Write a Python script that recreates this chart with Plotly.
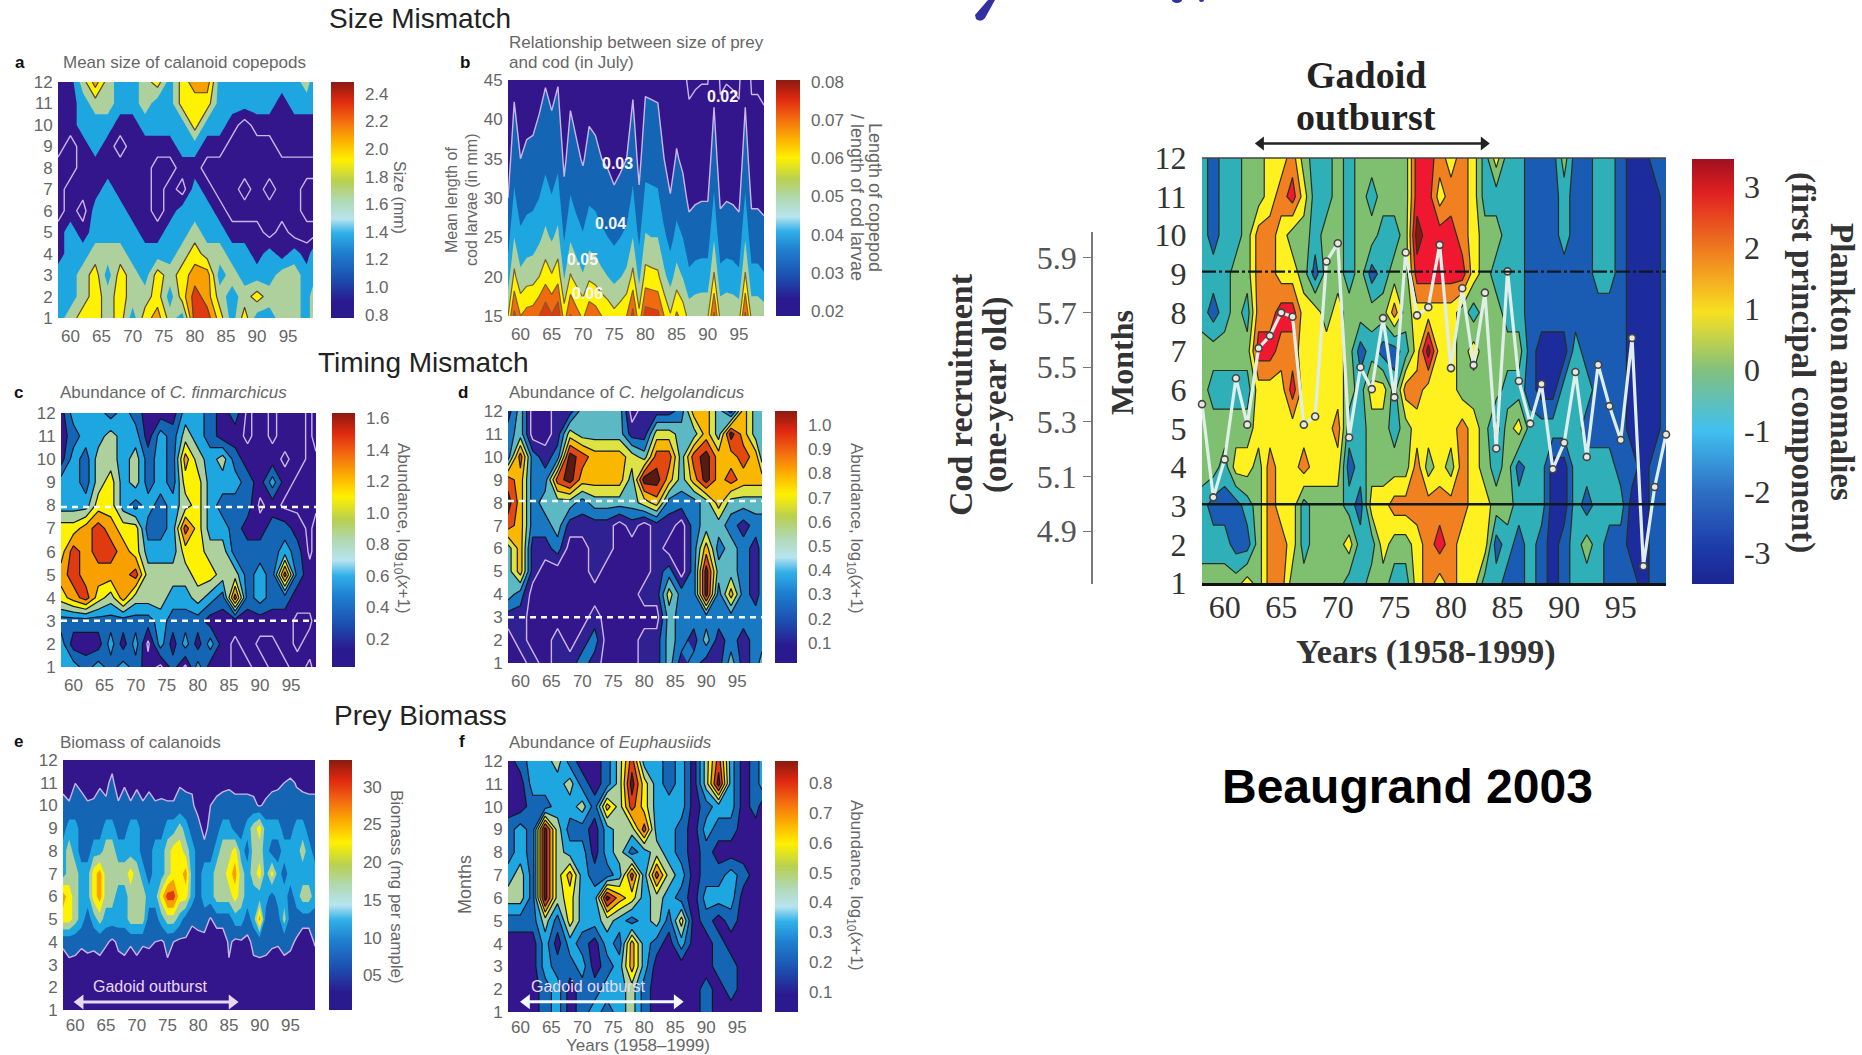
import plotly.graph_objects as go

W, H = 1862, 1055
YEARS_MAIN = list(range(1958, 2000))
YEARS_SMALL = list(range(1958, 2000, 2)) + [1999]
MONTHS_DOWN = list(range(12, 0, -1))
YEAR_TICKS = [1960, 1965, 1970, 1975, 1980, 1985, 1990, 1995]
YEAR_LABELS = ["60", "65", "70", "75", "80", "85", "90", "95"]
MONTH_TICKS = list(range(1, 13))

# Colours of the filled bands
P, B, C, S, Y, O, R, K = "#33168c", "#1565b5", "#1ea6e0", "#aed09c", "#fef200", "#f8a000", "#e03a10", "#5a1a10"

# a: mean size of calanoid copepods (mm), months 12 -> 1
Z_A = [
 [1.0,1.0,1.6,2.2,1.6,1.3,1.3,1.6,1.9,1.3,1.9,2.2,2.2,1.3,1.3,1.3,1.3,1.3,1.3,1.3,1.6,1.3],
 [1.0,1.0,1.3,1.6,1.6,1.3,1.3,1.6,1.3,1.3,1.9,1.9,1.9,1.3,1.3,1.3,1.3,1.3,1.0,1.3,1.3,1.3],
 [1.0,1.0,1.3,1.3,1.3,1.0,1.0,1.3,1.3,1.3,1.3,1.9,1.3,1.3,1.0,0.7,1.0,1.0,1.0,1.0,1.0,1.0],
 [1.0,0.7,1.0,1.3,1.0,0.7,1.0,1.0,1.0,1.0,1.3,1.3,1.0,1.0,0.7,0.7,0.7,0.7,1.0,1.0,1.0,1.0],
 [0.7,0.7,1.0,1.0,1.0,1.0,1.0,1.0,0.7,0.7,1.0,1.0,0.7,0.7,0.7,0.7,0.7,0.7,0.7,0.7,0.7,0.7],
 [0.7,1.0,1.0,1.0,1.3,1.0,1.0,1.0,0.7,1.0,0.7,1.3,1.0,0.7,0.7,1.0,0.7,1.0,0.7,0.7,1.0,1.0],
 [0.7,1.0,0.7,1.3,1.3,1.3,1.0,1.0,0.7,1.0,1.3,1.3,1.3,1.0,0.7,0.7,0.7,0.7,0.7,0.7,1.0,1.0],
 [1.0,1.3,1.0,1.3,1.3,1.3,1.3,1.0,1.0,1.3,1.3,1.6,1.3,1.3,1.0,1.0,1.0,0.7,1.0,0.7,0.7,0.7],
 [1.0,1.3,1.3,1.6,1.6,1.6,1.3,1.3,1.3,1.3,1.6,1.9,1.6,1.6,1.3,1.3,1.0,1.3,1.0,1.3,1.0,1.3],
 [1.3,1.3,1.6,1.9,1.3,1.9,1.6,1.3,1.9,1.6,1.9,2.2,2.2,1.3,1.6,1.3,1.3,1.3,1.6,1.6,1.3,1.3],
 [1.3,1.3,1.6,1.9,1.6,1.9,1.6,1.6,1.9,1.3,1.9,2.5,2.2,1.6,1.3,1.6,1.9,1.6,1.6,1.6,1.3,1.6],
 [1.3,1.6,1.9,1.9,1.6,1.9,1.3,1.9,2.2,1.6,1.3,2.5,2.5,1.9,1.3,1.9,1.3,1.3,1.6,1.6,1.3,1.6],
]

# b: length of copepod / length of cod larvae, rows are larval lengths, columns are years
B_LENGTHS = [15, 20, 25, 30, 35, 45]
Z_B = [
 [.060,.083,.070,.074,.075,.080,.088,.081,.088,.065,.081,.074,.068,.077,.075,.070,.067,.063,.066,.070,.084,.063,.085,.084,.083,.070,.061,.072,.066,.056,.058,.059,.059,.082,.057,.059,.058,.056,.082,.057,.057,.055],
 [.045,.0626,.0525,.0555,.056,.060,.0657,.061,.066,.049,.061,.0555,.051,.058,.056,.0525,.050,.047,.0495,.0525,.063,.047,.064,.063,.062,.0525,.046,.054,.0495,.042,.0435,.044,.044,.0615,.043,.044,.0435,.042,.0615,.043,.043,.041],
 [.036,.050,.042,.044,.045,.048,.0526,.0486,.0528,.039,.0486,.044,.041,.046,.045,.042,.040,.038,.040,.042,.050,.038,.051,.050,.050,.042,.0366,.043,.040,.0336,.035,.0354,.0354,.049,.034,.0354,.035,.0336,.049,.034,.034,.033],
 [.030,.0417,.035,.037,.0375,.040,.0438,.0405,.044,.0325,.0405,.037,.034,.0385,.0375,.035,.0335,.0315,.033,.035,.042,.0315,.0425,.042,.0415,.035,.0305,.036,.033,.028,.029,.0295,.0295,.041,.0285,.0295,.029,.028,.041,.0285,.0285,.0275],
 [.0257,.0357,.030,.0317,.0321,.0343,.0375,.0347,.0377,.0279,.0347,.0317,.0291,.033,.0321,.030,.0287,.027,.0283,.030,.036,.027,.0364,.036,.0356,.030,.0261,.0309,.0283,.024,.0249,.0253,.0253,.0351,.0244,.0253,.0249,.024,.0351,.0244,.0244,.0236],
 [.020,.0278,.0233,.0247,.025,.0267,.0292,.027,.0293,.0217,.027,.0247,.0227,.0257,.025,.0233,.0223,.021,.022,.0233,.028,.021,.0283,.028,.0277,.0233,.0203,.024,.022,.0187,.0193,.0197,.0197,.0273,.019,.0197,.0193,.0187,.0273,.019,.019,.0183],
]

# c: abundance of C. finmarchicus
Z_C = [
 [.2,.6,.6,.6,.4,.6,.4,.2,.2,.2,.6,.6,.4,.2,.4,.05,.2,.05,.2,.2,.05,.2],
 [.2,.4,.6,.6,.8,.6,.6,.2,.6,.4,.8,.6,.4,.2,.2,.05,.2,.05,.2,.2,.05,.2],
 [.2,.6,.4,.8,.8,.6,.8,.4,.6,.4,1.2,.8,.6,.8,.4,.2,.2,.2,.05,.2,.05,.05],
 [.6,.6,.4,.8,1.0,.6,.8,.4,.6,.4,1.0,1.0,.6,.6,.6,.4,.2,.6,.2,.05,.05,.05],
 [.6,.6,.6,1.0,1.0,.6,.4,.6,.4,.6,.8,1.0,.6,.4,.4,.4,.05,.2,.05,.05,.05,.05],
 [1.0,1.0,1.2,1.4,1.2,1.0,1.0,.4,.4,.6,1.4,1.0,.6,.6,.4,.2,.2,.4,.4,.2,.05,.2],
 [1.0,1.4,1.2,1.4,1.4,1.2,1.0,.6,.6,.6,1.0,1.0,.8,.8,.4,.4,.4,.4,.6,.4,.05,.2],
 [1.2,1.4,1.2,1.2,1.2,1.2,1.4,.8,.8,.8,.8,1.0,1.0,.8,.8,.4,.6,.4,1.4,.4,.2,.2],
 [1.0,1.2,1.4,1.0,.8,1.2,.8,.8,.8,.6,.6,.8,.6,.4,1.4,.4,.6,.4,.4,.2,.2,.2],
 [.4,.4,.4,.4,.4,.4,.4,.4,.6,.4,.4,.4,.2,.2,.2,.2,.2,.2,.2,.05,.05,.2],
 [.6,.2,.2,.2,.6,.2,.6,.05,.6,.2,.6,.2,.6,.2,.05,.2,.05,.05,.2,.05,.2,.2],
 [.6,.6,.4,.6,.4,.6,.4,.2,.05,.4,.05,.6,.2,.2,.05,.05,.2,.05,.05,.2,.05,.2],
]

# d: abundance of C. helgolandicus
Z_D = [
 [.15,.45,0,0,.15,.15,.45,.45,.45,.45,0,.15,.15,.15,.3,.75,.75,.45,.15,.75,.45,.45],
 [.3,.45,0,0,.15,.6,.45,.45,.45,.45,.15,.15,.6,.6,.45,.45,.75,.45,1.05,.75,.45,.45],
 [.3,.9,.3,.15,.3,1.05,.9,.75,.75,.75,.6,.45,.9,.9,.45,.9,1.05,.75,.75,.9,.75,.45],
 [.9,.75,.3,.3,.9,1.05,.75,.75,.75,.75,.45,1.05,1.05,.75,.45,.75,1.05,.75,.9,.75,.75,.75],
 [1.05,.75,.3,.45,.45,.45,.3,.45,.45,.45,.45,.6,.75,.3,.3,.3,.45,.75,.45,.45,.45,.45],
 [.9,.75,.3,.3,.45,.15,.15,.15,.15,0,.15,0,.15,.15,0,.3,.45,.45,.3,.15,.3,.3],
 [.45,.75,.15,.15,.3,0,0,.15,.15,0,0,0,.15,0,0,.3,.75,.3,.45,.3,.15,.3],
 [.45,.75,.15,0,0,0,0,.15,0,0,0,0,.15,.3,0,.3,1.05,.45,.45,.3,.15,.3],
 [.45,.3,0,0,0,0,0,0,0,0,0,.15,.15,.6,.3,.3,1.05,.3,.75,.3,.15,.3],
 [.15,.15,0,0,0,0,0,.15,0,0,0,0,0,.45,.3,.3,.3,.3,.3,.3,.3,.3],
 [0,.15,0,0,.15,0,.15,.3,0,0,0,.15,.15,.45,.3,.15,.45,.15,.3,.15,.3,.3],
 [0,0,.15,0,.15,.15,.3,.15,0,0,0,.15,.15,.45,.15,.3,.15,.15,.45,.15,.3,.45],
]

# e: biomass of calanoids (mg per sample), one column per year
Z_E = [
 [2]*42,
 [3.5,.5,4.47,3.83,.5,2.17,4.17,3,6.17,.5,4.25,.5,4.07,.5,3.83,.5,2.17,.5,.5,4.25,3.83,3.5,2,2,2,3,3.83,4.07,3.5,3.5,3.5,3,2,2.17,3.83,4.07,4.5,5.125,4.25,3.83,3.5,3.5],
 [5.5,5.5,5.5,5.5,5.5,5.5,5.5,5.5,5.5,5.5,5.5,5.5,5.5,5.5,5.5,5.5,5.5,5.5,5.5,5.5,5.5,5.5,2,2,4.5,5.5,5.5,5.5,5.5,5.5,5.5,5.5,4,5.5,5.5,5.5,5.5,5.5,5.5,5.5,5.5,5.5],
 [7,12,12,7,7,7,7,12,12,7,7,12,12,7,7,7,7,12,12,17,12,7,7,2,7,7,12,12,7,7,12,17,22,12,12,12,7,7,12,12,7,7],
 [12,17,12,7,7,12,12,17,17,12,12,12,12,7,7,12,12,17,22,22,17,12,7,7,7,12,17,17,22,12,7,17,17,12,7,7,12,12,12,17,12,7],
 [12,17,17,12,12,22,27,17,17,17,17,22,17,12,7,12,12,17,22,22,27,12,7,12,12,17,17,22,27,17,12,17,22,12,22,12,7,12,12,12,12,12],
 [27,22,17,12,12,22,27,17,17,12,12,17,17,17,12,12,22,32,32,22,22,12,7,12,12,17,17,17,22,17,12,12,12,12,7,12,12,7,12,17,17,12],
 [22,22,17,12,7,12,17,12,12,12,12,17,17,17,7,7,12,17,17,12,7,5.5,7,7,4,7,7,7,12,12,7,12,27,7,7,7,17,7,7,7,7,7],
 [5.5,5.5,5.5,5.5,5.5,5.5,5.5,5.5,3.4,5.5,5.5,5.5,5.5,5.5,5.5,4.5,3.9,5.5,4.5,3.4,3.9,2.2,2,2.8,2,.75,.75,5.5,3.4,3.9,3.4,5.5,5.5,5.5,5.5,5.5,5.5,5.5,3.9,.75,.75,5.5],
 [2.17,4.07,3.83,2.17,3.5,3,3.83,.5,2,3,3.83,.5,3.83,.5,2.17,2,2,4.07,2,2,2,2,2,2,2,2,2,4.07,2,2,2,3.83,4.07,3.83,2.17,.5,3.83,3,2,2,2,.5],
 [2]*42,
 [2]*42,
]

# f: abundance of Euphausiids
Z_F = [
 [.04,.16,.28,.28,.40,.16,.04,.04,.16,.40,.76,.28,.28,.16,.28,.04,.40,.76,.28,.04,.16,.28],
 [.04,.04,.28,.28,.28,.40,.16,.04,.16,.40,.88,.52,.28,.16,.28,.04,.40,.88,.28,.04,.16,.28],
 [.04,.04,.16,.16,.28,.28,.40,.16,.64,.40,.76,.52,.28,.28,.28,.04,.16,.28,.28,.04,.16,.04],
 [.16,.28,.16,.88,.40,.16,.16,.04,.28,.40,.40,.76,.28,.28,.16,.04,.28,.16,.16,.04,.04,.04],
 [.16,.28,.16,.88,.40,.28,.28,.04,.28,.40,.16,.28,.40,.28,.16,.04,.16,.04,.04,.04,.04,.04],
 [.28,.40,.16,.88,.40,.64,.28,.16,.16,.28,.76,.28,.76,.40,.28,.04,.16,.16,.28,.16,.04,.04],
 [.40,.40,.16,.88,.40,.52,.28,.28,.88,.64,.52,.28,.40,.28,.16,.04,.28,.28,.28,.04,.04,.04],
 [.16,.16,.16,.40,.16,.52,.28,.28,.40,.28,.16,.28,.40,.16,.52,.04,.16,.04,.16,.04,.04,.04],
 [.04,.04,.04,.28,.04,.28,.16,.04,.28,.16,.64,.28,.16,.04,.28,.04,.04,.16,.04,.04,.04,.04],
 [.04,.04,.04,.28,.16,.16,.28,.04,.16,.28,.64,.28,.04,.04,.04,.04,.04,.16,.16,.04,.04,.04],
 [.04,.04,.04,.16,.28,.04,.16,.16,.28,.28,.40,.16,.04,.04,.04,.04,.16,.04,.16,.04,.04,.04],
 [.04,.04,.04,.16,.28,.04,.16,.28,.16,.28,.40,.16,.04,.04,.04,.04,.16,.04,.04,.04,.04,.04],
]

# Main panel: plankton anomalies (first principal component), months 12 -> 1
Z_MAIN = [
 [-1,-2,-1,-1,0,0,1,1,2,0,-1,-1,0,-1,0,0,0,0,0,3,3,2,1,2,1,-1,1,-1,-1,-2,-2,-2,0,-2,-2,-1,-1,-2,-3,-3,-2,-2],
 [-1,-2,-1,-1,0,0,1,2,3,1,-1,-1,0,-1,0,-1,0,0,0,3,3,1,2,2,1,-1,-1,-1,-1,-2,-2,-2,-1,-2,-2,-1,-1,-2,-3,-3,-3,-2],
 [-1,-2,-1,-1,0,2,2,1,0,0,-1,0,0,-1,0,0,-1,-1,0,4,3,3,3,2,1,0,0,-1,-1,-2,-2,-2,-1,-2,-2,-1,-1,-2,-3,-3,-3,-2],
 [-1,-1,-1,0,0,2,2,1,1,0,-2,0,0,-1,0,-2,-1,0,0,3,3,3,3,3,1,0,-1,-1,-1,-2,-2,-2,-2,-2,-2,-1,-1,-2,-3,-3,-3,-2],
 [-1,-2,-1,0,-1,2,2,3,3,1,1,0,1,0,0,0,0,2,0,1,1,1,1,0,-1,0,0,-1,-1,-2,-2,-2,-2,-2,-2,-2,-2,-2,-3,-3,-3,-2],
 [0,0,0,0,0,3,3,2,2,1,1,1,1,0,-2,-1,-2,-2,-1,1,4,1,1,0,1,0,0,0,0,-2,-3,-3,-3,-1,-2,-2,-2,-2,-3,-3,-3,-2],
 [0,-1,-1,-1,-1,1,1,1,3,1,1,1,1,0,-1,1,1,-1,2,2,1,1,1,0,0,0,0,-1,-1,-2,-3,-3,-1,-1,-1,-2,-2,-2,-3,-3,-3,-2],
 [0,0,0,0,0,1,1,1,1,1,1,1,2,-1,-1,0,0,-1,0,1,1,1,1,2,1,0,-2,0,1,-1,-1,-1,-1,-1,-2,-2,-2,-2,-3,-3,-3,-2],
 [0,0,-1,1,1,0,2,1,1,2,1,1,1,-2,-1,0,0,0,0,2,0,1,0,2,1,0,-1,0,-2,-1,-1,-3,-3,-1,-1,-1,-1,-2,-2,-3,-2,-2],
 [-1,-2,-2,-2,-1,0,2,1,1,-1,0,0,0,-1,-2,1,1,2,2,2,2,2,2,2,1,1,0,0,-1,-1,-1,-3,-3,-1,-2,-1,-1,-1,-3,-3,-2,-2],
 [-1,-1,-1,-2,-2,0,2,2,1,-1,0,0,0,1,-1,-1,1,0,0,1,2,3,2,1,1,1,-2,-1,-2,-1,-2,-3,-2,-1,0,-1,-2,-2,-3,-3,-2,-2],
 [0,0,0,0,1,0,2,2,0,0,0,0,0,-1,-1,0,0,-1,-1,1,2,1,2,1,1,-1,-1,-2,-2,-1,-2,-3,-2,-1,-1,-1,-2,-2,-2,-3,-2,-2],
]

# Cod recruitment, one value per year
COD = [5.365,5.024,5.163,5.46,5.29,5.57,5.615,5.70,5.685,5.29,5.32,5.887,5.954,5.243,5.50,5.42,5.68,5.39,5.92,5.69,
       5.72,5.948,5.497,5.789,5.508,5.773,5.203,5.851,5.45,5.294,5.439,5.127,5.224,5.483,5.172,5.509,5.358,5.234,5.607,4.772,5.062,5.254]

# Gadoid outburst: start year, end year and the level the arrow sits at
OUTBURST_E = ([1960.8, 1985.5], [1.35, 1.35])
OUTBURST_F = ([1961.0, 1985.3], [1.45, 1.45])
OUTBURST_MAIN = ([1963.2, 1982.9], [0.5, 0.5])

for grid, n in [(Z_A, 22), (Z_B, 42), (Z_C, 22), (Z_D, 22), (Z_E, 42), (Z_F, 22), (Z_MAIN, 42)]:
    assert all(len(r) == n for r in grid), [len(r) for r in grid]
assert len(COD) == 42

BAR = [[0, "#2a1a8c"], [.07, "#2a1a90"], [.17, "#1c50b0"], [.28, "#1f80d0"], [.36, "#30b0e8"], [.42, "#b8e4f0"],
       [.5, "#b0d8b0"], [.58, "#b8d050"], [.67, "#fff000"], [.75, "#fdb000"], [.83, "#f47010"], [.92, "#e02810"], [1, "#8a1a10"]]
BAR_MAIN = [[0, "#1c2490"], [.08, "#1c3aa8"], [.22, "#2f70c4"], [.36, "#40c0f0"], [.5, "#80c080"], [.64, "#f8e020"],
            [.78, "#f08020"], [.92, "#e02020"], [1, "#a01020"]]


def fx(p):
    return p / W


def fy(p):
    return 1 - p / H


panels = [
    dict(box=(58, 313, 82, 318), x=YEARS_SMALL, y=MONTHS_DOWN, z=Z_A, bands=[P, P, C, S, Y, O, R, K], start=.85, size=.3, end=2.65, xl=3,
         pale=[.85], dark=(1.75, 2.65, .3), dc="#5a4030", bar=(331, 354, .776, 2.485), ticks=[.8, 1, 1.2, 1.4, 1.6, 1.8, 2, 2.2, 2.4], labels=["0.8", "1.0", "1.2", "1.4", "1.6", "1.8", "2.0", "2.2", "2.4"]),
    dict(box=(508, 764, 80, 316), x=YEARS_MAIN, y=B_LENGTHS, z=Z_B, bands=[P, P, B, C, S, Y, "#f06a10", R], start=.02, size=.01, end=.08, xl=3,
         pale=[.02, .03], dark=(.06, .08, .01), dc="#7a6030", bar=(776, 800, .0187, .0805), ticks=[.02, .03, .04, .05, .06, .07, .08], labels=["0.02", "0.03", "0.04", "0.05", "0.06", "0.07", "0.08"]),
    dict(box=(61, 316, 413, 667), x=YEARS_SMALL, y=MONTHS_DOWN, z=Z_C, bands=[P, P, B, C, S, Y, O, R, K], start=.1, size=.2, end=1.5, xl=3,
         pale=[.1], dark=(.3, 1.5, .2), dc="#101828", bar=(332, 355, .023, 1.632), ticks=[.2, .4, .6, .8, 1, 1.2, 1.4, 1.6], labels=["0.2", "0.4", "0.6", "0.8", "1.0", "1.2", "1.4", "1.6"]),
    dict(box=(508, 762, 411, 663), x=YEARS_SMALL, y=MONTHS_DOWN, z=Z_D, bands=[P, P, B, C, S, Y, O, R, K], start=.075, size=.15, end=.975, xl=3,
         pale=[.075], dark=(.225, .975, .15), dc="#101828", bar=(775, 797, .017, 1.058), ticks=[.1, .2, .3, .4, .5, .6, .7, .8, .9, 1], labels=["0.1", "0.2", "0.3", "0.4", "0.5", "0.6", "0.7", "0.8", "0.9", "1.0"]),
    dict(box=(63, 315, 760, 1010), x=YEARS_MAIN, y=MONTHS_DOWN, z=Z_E, bands=[P, B, C, S, Y, O, R], start=4.5, size=5, end=29.5, xl=0,
         pale=[4.5], dark=None, dc="#101828", bar=(329, 352, .4, 33.55), ticks=[5, 10, 15, 20, 25, 30], labels=["05", "10", "15", "20", "25", "30"]),
    dict(box=(508, 762, 761, 1012), x=YEARS_SMALL, y=MONTHS_DOWN, z=Z_F, bands=[P, B, C, S, Y, O, R, K], start=.1, size=.12, end=.82, xl=0,
         pale=[], dark=(.1, .82, .12), dc="#101828", bar=(775, 798, .033, .874), ticks=[.1, .2, .3, .4, .5, .6, .7, .8], labels=["0.1", "0.2", "0.3", "0.4", "0.5", "0.6", "0.7", "0.8"]),
    dict(box=(1202, 1666, 158, 583), x=YEARS_MAIN, y=MONTHS_DOWN, z=Z_MAIN, bands=["#1c2c9c", "#1a5cb4", "#2fb0b8", "#7ec070", "#fff020", "#f08020", "#f01830", "#8a1810"], xl=0,
         start=-2.5, size=1, end=3.5, pale=[], dark=(-2.5, 3.5, 1), dc="#27301c", bar=(1692, 1734, -3.51, 3.46), ticks=[-3, -2, -1, 0, 1, 2, 3], labels=["-3", "-2", "-1", "0", "1", "2", "3"]),
]

fig = go.Figure()
layout = {}
for i, p in enumerate(panels, start=1):
    suffix = "" if i == 1 else str(i)
    xa, ya = "x" + suffix, "y" + suffix
    big = i == 7
    x0, x1, y0, y1 = p["box"]
    font = dict(family="Liberation Serif", size=32, color="#333") if big else dict(family="Liberation Sans", size=17, color="#666")
    layout["xaxis" + suffix] = dict(domain=[fx(x0), fx(x1)], range=[1958, 1999], anchor=ya, tickvals=YEAR_TICKS, ticktext=YEAR_LABELS,
                                    ticks="outside", ticklen=p["xl"], tickcolor="rgba(0,0,0,0)", tickfont=font, showgrid=False, zeroline=False,
                                    showline=big, linecolor="#111", linewidth=3, ticklabelstandoff=-6 if big else 0)
    is_b = i == 2
    layout["yaxis" + suffix] = dict(domain=[fy(y1), fy(y0)], range=[15, 45] if is_b else [1, 12], anchor=xa,
                                    tickvals=[15, 20, 25, 30, 35, 40, 45] if is_b else MONTH_TICKS, ticks="outside", ticklen=8 if big else 1,
                                    tickcolor="rgba(0,0,0,0)", tickfont=font, showgrid=False, zeroline=False)
    n = len(p["bands"])
    scale = [[k / (n - 1), c] for k, c in enumerate(p["bands"])]
    fig.add_trace(go.Contour(x=p["x"], y=p["y"], z=p["z"], xaxis=xa, yaxis=ya, autocontour=False, showscale=False, colorscale=scale,
                             contours=dict(start=p["start"], end=p["end"], size=p["size"], coloring="fill", showlines=False),
                             line=dict(width=0, smoothing=0), hoverinfo="skip"))
    for lv in p["pale"]:
        fig.add_trace(go.Contour(x=p["x"], y=p["y"], z=p["z"], xaxis=xa, yaxis=ya, autocontour=False, showscale=False,
                                 contours=dict(start=lv, end=lv, size=1, coloring="none"),
                                 line=dict(width=1.4, color="#cdb4ea", smoothing=0), hoverinfo="skip"))
    if p["dark"]:
        a, b, s = p["dark"]
        fig.add_trace(go.Contour(x=p["x"], y=p["y"], z=p["z"], xaxis=xa, yaxis=ya, autocontour=False, showscale=False,
                                 contours=dict(start=a, end=b, size=s, coloring="none"),
                                 line=dict(width=1.2, color=p["dc"], smoothing=0), hoverinfo="skip"))
    bx0, bx1, cmin, cmax = p["bar"]
    fig.add_trace(go.Scatter(x=[1970], y=[30 if is_b else 6], xaxis=xa, yaxis=ya, mode="markers", hoverinfo="skip",
                             marker=dict(size=1, opacity=0, color=[cmin], cmin=cmin, cmax=cmax, colorscale=BAR_MAIN if big else BAR, showscale=True,
                                         colorbar=dict(x=fx(bx0), xanchor="left", y=fy(y1 + (1 if big else 0)), yanchor="bottom", len=(y1 - y0) / H, lenmode="fraction",
                                                       thickness=bx1 - bx0, thicknessmode="pixels", xpad=0, ypad=0, outlinewidth=0,
                                                       tickvals=p["ticks"], ticktext=p["labels"], ticks="outside", ticklen=4 if big else 8,
                                                       tickcolor="rgba(0,0,0,0)", tickfont=font))))

# Strip above the main panel that carries its outburst arrow
layout["yaxis9"] = dict(domain=[fy(156), fy(131)], range=[0, 1], anchor="x7", visible=False)

# Gadoid outburst arrows with a head at both ends
for (ax, ay), xa, ya, col, wd, size in [(OUTBURST_E, "x5", "y5", "#ecd8f6", 3, 13), (OUTBURST_F, "x6", "y6", "#f4fbff", 3, 13),
                                         (OUTBURST_MAIN, "x7", "y9", "#222", 2.5, 12)]:
    fig.add_trace(go.Scatter(x=ax, y=ay, xaxis=xa, yaxis=ya, mode="lines+markers", cliponaxis=False, hoverinfo="skip",
                             line=dict(color=col, width=wd),
                             marker=dict(color=col, size=size, symbol=["triangle-left", "triangle-right"])))

# Cod recruitment line on its own scale
layout["yaxis8"] = dict(domain=[fy(584), fy(232)], range=[4.707, 5.995], anchor="free", position=fx(1092), side="left",
                        tickvals=[4.9, 5.1, 5.3, 5.5, 5.7, 5.9], ticktext=["4.9", "5.1", "5.3", "5.5", "5.7", "5.9"], ticks="outside", ticklen=8, tickcolor="#777",
                        tickfont=dict(family="Liberation Serif", size=32, color="#555"), showline=True, linecolor="#777", linewidth=1.5,
                        showgrid=False, zeroline=False)
fig.add_trace(go.Scatter(x=YEARS_MAIN, y=COD, xaxis="x7", yaxis="y8", mode="lines+markers", cliponaxis=False, hoverinfo="skip",
                         line=dict(color="#dfeee8", width=3.2),
                         marker=dict(size=7, color="#e8e8e0", line=dict(color="#444", width=1.6))))

shapes = []
# Threshold months drawn across panels c, d and the main panel
THRESH_C = [7.93, 3.0]
THRESH_D = [8.07, 3.0]
THRESH_MAIN = [9.06, 3.04]
for vals, xa, ya in [(THRESH_C, "x3", "y3"), (THRESH_D, "x4", "y4")]:
    for v in vals:
        shapes.append(dict(type="line", xref=xa, yref=ya, x0=1958, x1=1999, y0=v, y1=v, line=dict(color="#f4fbff", width=2.4, dash="6px,5px")))
shapes.append(dict(type="line", xref="x7", yref="y7", x0=1958, x1=1999, y0=THRESH_MAIN[0], y1=THRESH_MAIN[0], line=dict(color="#10181c", width=2.2, dash="14px,3px,3px,3px")))
shapes.append(dict(type="line", xref="x7", yref="y7", x0=1958, x1=1999, y0=THRESH_MAIN[1], y1=THRESH_MAIN[1], line=dict(color="#10181c", width=2.4)))
shapes.append(dict(type="line", xref="paper", yref="paper", x0=fx(1202), x1=fx(1666), y0=fy(158), y1=fy(158), line=dict(color="#444", width=1.5)))
# Stroke of the cropped title along the top edge of the page
shapes.append(dict(type="path", xref="paper", yref="paper", fillcolor="#33319f", line=dict(width=0),
                   path=f"M {fx(988)} {fy(0)} L {fx(995)} {fy(0)} L {fx(985)} {fy(18)} Q {fx(981)} {fy(23)} {fx(976)} {fy(19)} L {fx(975)} {fy(15)} Z"))
shapes.append(dict(type="circle", xref="paper", yref="paper", fillcolor="#33319f", line=dict(width=0), x0=fx(1172), x1=fx(1182), y0=fy(-3), y1=fy(3)))
shapes.append(dict(type="circle", xref="paper", yref="paper", fillcolor="#33319f", line=dict(width=0), x0=fx(1199), x1=fx(1204), y0=fy(-2), y1=fy(2)))

notes = []


def note(text, x, y, size, color="#222", family="Liberation Sans", angle=0, anchor="center"):
    notes.append(dict(text=text, x=fx(x), y=fy(y), xref="paper", yref="paper", showarrow=False, xanchor=anchor, yanchor="middle",
                      font=dict(family=family, size=size, color=color), textangle=angle))


GREY = "#666"
for text, x, y in [("Size Mismatch", 420, 19), ("Timing Mismatch", 423, 362), ("Prey Biomass", 420, 715)]:
    note(text, x, y, 28)
for text, x, y in [("a", 20, 63), ("b", 465, 62), ("c", 18, 393), ("d", 463, 392), ("e", 18, 741), ("f", 462, 741)]:
    note("<b>" + text + "</b>", x, y, 17, "#111")
for text, x, y in [("Mean size of calanoid copepods", 61, 63), ("Relationship between size of prey", 507, 43), ("and cod (in July)", 507, 63),
                   ("Abundance of <i>C. finmarchicus</i>", 58, 393), ("Abundance of <i>C. helgolandicus</i>", 507, 393),
                   ("Biomass of calanoids", 58, 742), ("Abundance of <i>Euphausiids</i>", 507, 742)]:
    note(text, x, y, 17, GREY, anchor="left")
for text, x, y, a, sz in [("Mean length of", 452, 200, -90, 16), ("cod larvae (in mm)", 472, 200, -90, 16), ("Months", 465, 885, -90, 18),
                          ("Size (mm)", 400, 197, 90, 16), ("Length of copepod", 875, 197, 90, 18), ("/ length of cod larvae", 857, 197, 90, 18),
                          ("Abundance, log<sub>10</sub>(<i>x</i>+1)", 402, 528, 90, 17), ("Abundance, log<sub>10</sub>(<i>x</i>+1)", 855, 528, 90, 17),
                          ("Biomass (mg per sample)", 397, 887, 90, 17), ("Abundance, log<sub>10</sub>(<i>x</i>+1)", 855, 885, 90, 17),
                          ("Years (1958–1999)", 638, 1045, 0, 17)]:
    note(text, x, y, sz, GREY, angle=a)
for text, x, y in [("0.02", 722, 96), ("0.03", 617, 163), ("0.04", 610, 224), ("0.05", 582, 259), ("0.06", 587, 293)]:
    note("<b>" + text + "</b>", x, y, 16, "#f6f6ff")
note("Gadoid outburst", 150, 986, 16, "#ecd8f6")
note("Gadoid outburst", 588, 986, 16, "#ecd8f6")
SERIF = "Liberation Serif"
note("<b>Gadoid</b>", 1366, 75, 38, "#222", SERIF)
note("<b>outburst</b>", 1366, 117, 38, "#222", SERIF)
note("<b>Years (1958-1999)</b>", 1426, 652, 34, "#333", SERIF)
note("<b>Months</b>", 1122, 363, 32, "#333", SERIF, -90)
note("<b>Cod recruitment</b>", 960, 395, 34, "#333", SERIF, -90)
note("<b>(one-year old)</b>", 995, 395, 33, "#333", SERIF, -90)
note("<b>Plankton anomalies</b>", 1842, 362, 33, "#333", SERIF, 90)
note("<b>(first principal component)</b>", 1803, 362, 33, "#333", SERIF, 90)
note("<b>Beaugrand 2003</b>", 1407, 786, 48, "#000")

fig.update_layout(width=W, height=H, autosize=False, margin=dict(l=0, r=0, t=0, b=0, autoexpand=False), paper_bgcolor="white", plot_bgcolor="rgba(0,0,0,0)",
                  showlegend=False, shapes=shapes, annotations=notes, **layout)
fig.write_html("out.html", config=dict(displayModeBar=False),
               post_script="document.body.style.margin='0';document.body.style.overflow='hidden';")
